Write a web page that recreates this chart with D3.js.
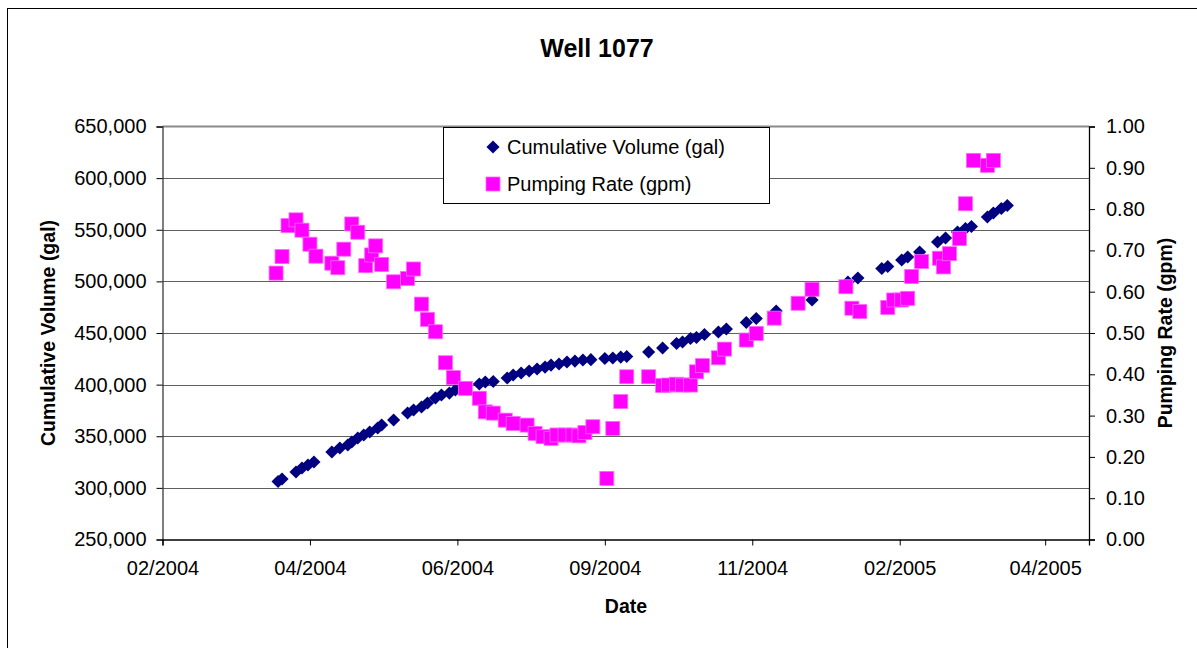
<!DOCTYPE html>
<html><head><meta charset="utf-8">
<script src="https://cdn.jsdelivr.net/npm/d3@7"></script>
<style>html,body{margin:0;padding:0;background:#fff;} svg{display:block;font-family:"Liberation Sans",Arial,sans-serif;}</style>
</head><body>
<svg id="chart" width="1197" height="648"></svg>
<script>
const chartTitle = "Well 1077";
const volumeLabel = "Cumulative Volume (gal)";
const rateLabel = "Pumping Rate (gpm)";
const xTitle = "Date";
const leftTitle = "Cumulative Volume (gal)";
const rightTitle = "Pumping Rate (gpm)";

const volumeDates = ["2004-03-30","2004-04-01","2004-04-08","2004-04-11","2004-04-14","2004-04-17","2004-04-26","2004-04-30","2004-05-04","2004-05-06","2004-05-09","2004-05-12","2004-05-15","2004-05-19","2004-05-21","2004-05-27","2004-06-03","2004-06-06","2004-06-10","2004-06-13","2004-06-17","2004-06-20","2004-06-24","2004-06-27","2004-06-30","2004-07-09","2004-07-12","2004-07-16","2004-07-23","2004-07-26","2004-07-30","2004-08-03","2004-08-07","2004-08-11","2004-08-14","2004-08-18","2004-08-22","2004-08-26","2004-08-30","2004-09-03","2004-09-10","2004-09-14","2004-09-18","2004-09-21","2004-10-02","2004-10-09","2004-10-16","2004-10-19","2004-10-23","2004-10-26","2004-10-30","2004-11-06","2004-11-10","2004-11-20","2004-11-25","2004-12-05","2004-12-23","2005-01-10","2005-01-15","2005-01-27","2005-01-30","2005-02-06","2005-02-09","2005-02-15","2005-02-24","2005-02-28","2005-03-06","2005-03-10","2005-03-13","2005-03-21","2005-03-24","2005-03-28","2005-03-31"];
const volumeValues = [306200,308600,315400,319200,322200,325100,334700,338600,341500,344400,348300,351200,354100,358000,360900,365700,372500,375400,378300,382200,387000,389900,391800,394800,396800,400600,402500,403000,406400,409300,411300,413200,415100,417000,418900,420000,421900,422800,423800,424200,425300,425800,426700,427200,431600,435500,439800,441300,444700,445600,448500,451000,453900,460200,464000,471300,482000,499400,503300,512500,514400,520700,523600,528500,538100,542000,547800,551200,553200,562300,566200,570600,573500];

const rateDates = ["2004-03-29","2004-04-01","2004-04-04","2004-04-08","2004-04-11","2004-04-15","2004-04-18","2004-04-26","2004-04-29","2004-05-02","2004-05-06","2004-05-09","2004-05-13","2004-05-16","2004-05-18","2004-05-21","2004-05-27","2004-06-03","2004-06-06","2004-06-10","2004-06-13","2004-06-17","2004-06-22","2004-06-26","2004-07-02","2004-07-09","2004-07-12","2004-07-16","2004-07-22","2004-07-26","2004-08-02","2004-08-06","2004-08-10","2004-08-14","2004-08-17","2004-08-21","2004-08-25","2004-08-28","2004-08-31","2004-09-04","2004-09-11","2004-09-14","2004-09-18","2004-09-21","2004-10-02","2004-10-09","2004-10-12","2004-10-16","2004-10-19","2004-10-23","2004-10-26","2004-10-29","2004-11-06","2004-11-09","2004-11-20","2004-11-25","2004-12-04","2004-12-16","2004-12-23","2005-01-09","2005-01-12","2005-01-16","2005-01-30","2005-02-02","2005-02-06","2005-02-09","2005-02-11","2005-02-16","2005-02-25","2005-02-27","2005-03-02","2005-03-07","2005-03-10","2005-03-14","2005-03-21","2005-03-24"];
const rateValues = [0.645,0.685,0.760,0.774,0.749,0.715,0.686,0.669,0.658,0.703,0.764,0.744,0.663,0.689,0.711,0.666,0.624,0.632,0.655,0.570,0.533,0.503,0.428,0.392,0.366,0.342,0.309,0.306,0.289,0.281,0.277,0.257,0.249,0.245,0.253,0.253,0.253,0.251,0.259,0.273,0.148,0.269,0.334,0.394,0.394,0.373,0.374,0.376,0.374,0.374,0.406,0.421,0.440,0.461,0.483,0.499,0.536,0.572,0.606,0.612,0.560,0.552,0.562,0.580,0.580,0.584,0.637,0.673,0.681,0.660,0.692,0.729,0.813,0.918,0.906,0.918];

const xTickDates = ["2004-02-01","2004-04-15","2004-06-28","2004-09-10","2004-11-23","2005-02-05","2005-04-19"];
const xDomain = ["2004-02-01","2005-05-11"];
const leftTicks = [250000,300000,350000,400000,450000,500000,550000,600000,650000];
const rightTicks = [0,0.1,0.2,0.3,0.4,0.5,0.6,0.7,0.8,0.9,1.0];

const parse = d3.utcParse("%Y-%m-%d");
const svg = d3.select("#chart");
const L = 162.5, R = 1089, T = 126.5, B = 539.5;

const x = d3.scaleUtc().domain(xDomain.map(parse)).range([L, R]);
const yL = d3.scaleLinear().domain([250000, 650000]).range([B, T]);
const yR = d3.scaleLinear().domain([0, 1]).range([B, T]);

// outer chart border
svg.append("rect").attr("x", 7.5).attr("y", 8.5).attr("width", 1200).attr("height", 700)
  .attr("fill", "#fff").attr("stroke", "#000").attr("stroke-width", 1);

// gridlines
svg.append("g").selectAll("line").data(leftTicks.slice(1, -1)).join("line")
  .attr("x1", L).attr("x2", R).attr("y1", d => Math.round(yL(d)) + 0.5).attr("y2", d => Math.round(yL(d)) + 0.5)
  .attr("stroke", "#5f5f5f").attr("stroke-width", 1);
// plot top border
svg.append("line").attr("x1", L).attr("x2", R).attr("y1", T).attr("y2", T).attr("stroke", "#8a8a8a").attr("stroke-width", 2);

// axes
const fontSize = "20px";
const gL = svg.append("g").attr("transform", `translate(${L},0)`)
  .call(d3.axisLeft(yL).tickValues(leftTicks).tickFormat(d3.format(",")).tickSize(6).tickPadding(10));
const gR = svg.append("g").attr("transform", `translate(${R},0)`)
  .call(d3.axisRight(yR).tickValues(rightTicks).tickFormat(d3.format(".2f")).tickSize(6).tickPadding(11));
const gX = svg.append("g").attr("transform", `translate(0,${B})`)
  .call(d3.axisBottom(x).tickValues(xTickDates.map(parse)).tickFormat(d3.utcFormat("%m/%Y")).tickSize(6).tickPadding(15));
[gL, gR, gX].forEach(g => {
  g.select(".domain").attr("stroke", "#000").attr("stroke-width", 1.3);
  g.selectAll(".tick line").attr("stroke", "#000");
  g.selectAll("text").attr("font-size", fontSize).attr("font-family", "Liberation Sans, Arial, sans-serif").attr("fill", "#000");
});
gL.select(".domain").attr("stroke", "#3a3a3a");

// series: diamonds
const diamond = d3.symbol().type(d3.symbolDiamond2).size(110);
svg.append("g").selectAll("path").data(volumeDates.map((d, i) => ({d: parse(d), v: volumeValues[i]}))).join("path")
  .attr("d", diamond)
  .attr("transform", p => `translate(${x(p.d)},${yL(p.v)}) rotate(0)`)
  .attr("fill", "#000080");

// series: squares
const sq = 14;
svg.append("g").selectAll("rect").data(rateDates.map((d, i) => ({d: parse(d), v: rateValues[i]}))).join("rect")
  .attr("x", p => x(p.d) - sq / 2).attr("y", p => yR(p.v) - sq / 2)
  .attr("width", sq).attr("height", sq)
  .attr("fill", "#ff00ff").attr("stroke", "#ff66ff").attr("stroke-width", 0.8);

// legend
const lg = svg.append("g");
lg.append("rect").attr("x", 443.5).attr("y", 127.5).attr("width", 326).attr("height", 76)
  .attr("fill", "#fff").attr("stroke", "#000").attr("stroke-width", 1);
lg.append("path").attr("d", diamond).attr("transform", "translate(493,147)").attr("fill", "#000080");
lg.append("rect").attr("x", 486).attr("y", 177).attr("width", sq).attr("height", sq).attr("fill", "#ff00ff").attr("stroke", "#ff66ff").attr("stroke-width", 0.8);
lg.append("text").attr("x", 507).attr("y", 154).attr("font-size", "20px").text(volumeLabel);
lg.append("text").attr("x", 507).attr("y", 191).attr("font-size", "20px").text(rateLabel);

// titles
svg.append("text").attr("x", 597).attr("y", 57).attr("text-anchor", "middle")
  .attr("font-size", "25px").attr("font-weight", "bold").text(chartTitle);
svg.append("text").attr("x", 626).attr("y", 613).attr("text-anchor", "middle")
  .attr("font-size", "19.5px").attr("font-weight", "bold").text(xTitle);
svg.append("text").attr("transform", "translate(55,333) rotate(-90)").attr("text-anchor", "middle")
  .attr("font-size", "19.5px").attr("font-weight", "bold").text(leftTitle);
svg.append("text").attr("transform", "translate(1172,333) rotate(-90)").attr("text-anchor", "middle")
  .attr("font-size", "19.5px").attr("font-weight", "bold").text(rightTitle);
</script>
</body></html>
